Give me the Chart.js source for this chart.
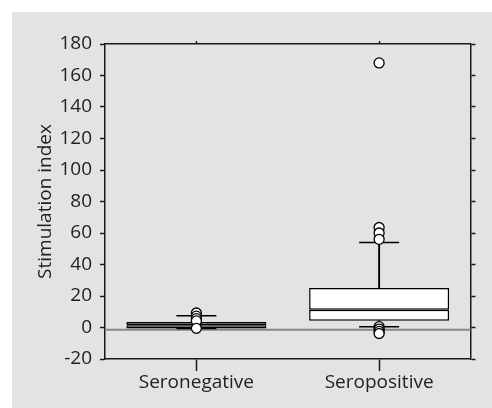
<!DOCTYPE html>
<html>
<head>
<meta charset="utf-8">
<script src="https://cdn.jsdelivr.net/npm/chart.js@4.4.1/dist/chart.umd.min.js"></script>
<style>
  html, body { margin: 0; padding: 0; background: #ffffff; }
  #wrap { width: 492px; height: 408px; position: relative; }
</style>
</head>
<body>
<div id="wrap"><canvas id="c" width="492" height="408"></canvas></div>
<script>
const categories = ['Seronegative', 'Seropositive'];
const q1 = [-0.7, 4.3];
const median = [1.4, 11.3];
const q3 = [3.5, 25.1];
const whiskerLow = [-0.7, 0.5];
const whiskerHigh = [7.5, 54];
const outliersSeronegative = [9.2, 7.2, 5.6, 4.2, -0.5];
const outliersSeropositive = [168, 63.5, 60, 56, 0.5, -1, -2.5, -3.8];
const referenceLine = -1.5;
const yTicks = [-20, 0, 20, 40, 60, 80, 100, 120, 140, 160, 180];

const FONT = '"Open Sans", "Noto Sans", sans-serif';
const AX = '#1a1a1a';

const outlierPoints = [];
outliersSeronegative.forEach(v => outlierPoints.push({x: categories[0], y: v}));
outliersSeropositive.forEach(v => outlierPoints.push({x: categories[1], y: v}));

const bgPlugin = {
  id: 'bg',
  beforeDraw(chart) {
    const ctx = chart.ctx;
    ctx.save();
    ctx.fillStyle = '#ffffff';
    ctx.fillRect(0, 0, chart.width, chart.height);
    ctx.fillStyle = '#e3e3e3';
    ctx.fillRect(12, 12, chart.width - 12, chart.height - 12);
    ctx.restore();
  },
  beforeDatasetsDraw(chart) {
    const ctx = chart.ctx;
    const y = chart.scales.y.getPixelForValue(referenceLine);
    ctx.save();
    ctx.strokeStyle = '#888888';
    ctx.lineWidth = 2;
    ctx.beginPath();
    ctx.moveTo(chart.chartArea.left, y);
    ctx.lineTo(chart.chartArea.right, y);
    ctx.stroke();
    ctx.restore();
  }
};

const tickFont = { family: FONT, size: 19 };

new Chart(document.getElementById('c'), {
  type: 'bar',
  data: {
    labels: categories,
    datasets: [
      {
        type: 'line',
        data: outlierPoints,
        showLine: false,
        pointStyle: 'circle',
        pointRadius: 5,
        pointBackgroundColor: '#ffffff',
        pointBorderColor: '#000000',
        pointBorderWidth: 1.3,
        order: 1
      },
      {
        data: categories.map((c, i) => [q1[i], median[i]]),
        backgroundColor: '#ffffff',
        borderColor: '#000000',
        borderWidth: 1.5,
        borderSkipped: false,
        grouped: false,
        categoryPercentage: 1,
        barPercentage: 0.766,
        order: 2
      },
      {
        data: categories.map((c, i) => [median[i], q3[i]]),
        backgroundColor: '#ffffff',
        borderColor: '#000000',
        borderWidth: 1.5,
        borderSkipped: false,
        grouped: false,
        categoryPercentage: 1,
        barPercentage: 0.766,
        order: 2
      },
      {
        type: 'line',
        data: whiskerHigh.concat([]),
        showLine: false,
        pointStyle: 'line',
        pointRadius: 20,
        borderColor: '#000000',
        pointBorderColor: '#000000',
        pointBorderWidth: 1.5,
        order: 3
      },
      {
        type: 'line',
        data: whiskerLow.concat([]),
        showLine: false,
        pointStyle: 'line',
        pointRadius: 20,
        borderColor: '#000000',
        pointBorderColor: '#000000',
        pointBorderWidth: 1.5,
        order: 3
      },
      {
        data: categories.map((c, i) => [q3[i], whiskerHigh[i]]),
        backgroundColor: '#000000',
        borderWidth: 0,
        grouped: false,
        barThickness: 1.2,
        order: 4
      },
      {
        data: categories.map((c, i) => [whiskerLow[i], q1[i]]),
        backgroundColor: '#000000',
        borderWidth: 0,
        grouped: false,
        barThickness: 1.2,
        order: 4
      }
    ]
  },
  options: {
    responsive: false,
    animation: false,
    events: [],
    layout: { padding: 0 },
    plugins: { legend: { display: false }, tooltip: { enabled: false } },
    scales: {
      x: {
        type: 'category',
        position: 'bottom',
        offset: true,
        grid: { offset: false, drawOnChartArea: false, tickLength: 12, tickColor: AX, tickWidth: 1.5 },
        border: { color: AX, width: 1.5 },
        ticks: { font: tickFont, color: '#222222', padding: 0, maxRotation: 0 },
        afterFit(s) { s.height = 49; }
      },
      x2: {
        type: 'category',
        position: 'top',
        labels: categories,
        offset: true,
        grid: { offset: false, drawOnChartArea: false, tickLength: 3, tickColor: AX, tickWidth: 1.5 },
        border: { color: AX, width: 1.5 },
        ticks: { display: false },
        afterFit(s) { s.height = 44; }
      },
      y: {
        position: 'left',
        min: -20,
        max: 180,
        afterBuildTicks(s) { s.ticks = yTicks.map(v => ({ value: v })); },
        grid: { drawOnChartArea: false, tickLength: 5, tickColor: AX, tickWidth: 1.5 },
        border: { color: AX, width: 1.5 },
        ticks: { font: tickFont, color: '#222222', padding: 8 },
        title: { display: true, text: 'Stimulation index', font: { family: FONT, size: 19 }, color: '#222222', padding: { top: 34, bottom: 0 } },
        afterFit(s) { s.width = 105; }
      },
      y2: {
        position: 'right',
        min: -20,
        max: 180,
        afterBuildTicks(s) { s.ticks = yTicks.map(v => ({ value: v })); },
        grid: { drawOnChartArea: false, tickLength: 5, tickColor: AX, tickWidth: 1.5 },
        border: { color: AX, width: 1.5 },
        ticks: { display: false },
        afterFit(s) { s.width = 19; }
      }
    }
  },
  plugins: [bgPlugin]
});
</script>
</body>
</html>
